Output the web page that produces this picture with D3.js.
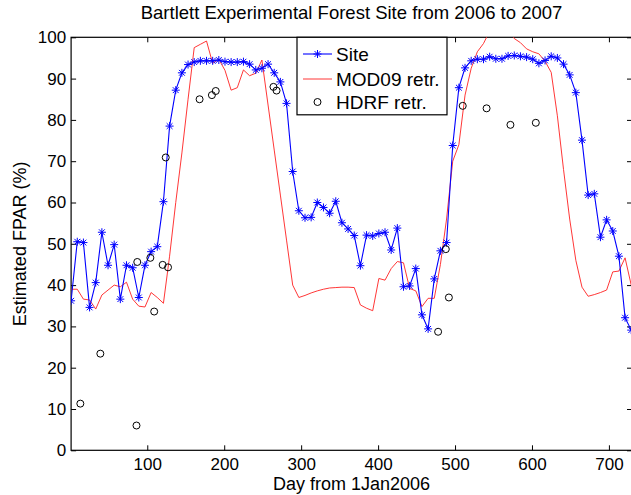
<!DOCTYPE html>
<html><head><meta charset="utf-8">
<script src="https://cdn.jsdelivr.net/npm/d3@7/dist/d3.min.js"></script>
<style>
body{margin:0;background:#fff}
svg{display:block;font-family:"Liberation Sans",Arial,Helvetica,sans-serif}
</style>
</head><body>
<svg id="chart" width="631" height="495"></svg>
<script>
const days = [1,9,17,25,33,41,49,57,65,73,81,89,97,105,113,121,129,137,145,153,161,169,177,185,193,201,209,217,225,233,241,249,257,265,273,281,289,297,305,313,321,329,337,345,353,361,
369,377,385,393,401,409,417,425,433,441,449,457,465,473,481,489,497,505,513,521,529,537,545,553,561,569,577,585,593,601,609,617,625,633,641,649,657,665,673,681,689,697,705,713,721,729];

const siteValues = [36.2,50.5,50.3,34.6,40.6,52.8,44.8,49.8,36.6,44.8,44.2,37.0,44.8,48.1,49.3,60.2,78.5,87.2,91.4,93.4,94.0,94.3,94.3,94.3,94.5,94.1,94.0,94.0,94.1,93.5,92.1,92.5,93.5,91.4,89.2,84.0,67.5,58.0,56.3,56.4,60.0,58.8,57.4,60.3,55.1,53.6,
52.0,44.7,52.1,51.9,52.5,52.8,48.5,53.8,39.6,39.8,44.0,32.8,29.4,41.5,48.3,50.3,73.8,87.8,92.6,94.3,94.7,94.7,95.3,94.8,94.8,95.5,95.6,95.4,95.2,94.7,93.7,94.4,95.4,95.0,93.5,90.9,86.6,75.1,61.8,62.1,51.6,55.8,53.1,47.0,32.1,29.1];

const mod09Values = [39.0,39.0,36.6,36.4,34.2,37.6,38.8,40.0,39.6,40.7,36.6,34.9,34.7,38.2,37.0,35.6,47.0,60.0,72.0,85.0,97.5,98.3,99.1,93.7,94.7,92.0,87.2,87.8,92.1,90.7,91.3,94.5,83.6,72.7,61.8,50.9,40.0,37.0,37.5,38.1,38.6,39.0,39.3,39.4,39.5,39.5,
39.4,35.2,34.4,33.8,41.6,41.2,44.0,45.7,45.4,39.2,38.6,34.8,36.8,36.8,45.0,56.0,70.0,74.0,86.0,92.5,96.5,98.5,101.5,104.0,104.0,102.0,99.7,98.7,97.2,96.5,96.0,94.2,91.5,81.0,68.0,56.0,46.0,39.5,37.3,37.7,38.2,38.8,43.2,43.4,46.6,40.0];

const hdrfDays   = [13,39,86,87,104,109,120,124,127,168,184,189,264,268,478,488,492,510,541,572,605];
const hdrfValues = [11.3,23.4,6.0,45.6,46.6,33.6,44.9,70.9,44.3,85.0,86.0,87.0,88.0,87.1,28.7,48.7,37.0,83.4,82.8,78.8,79.3];

const xTicks = [100,200,300,400,500,600,700];
const yTicks = [0,10,20,30,40,50,60,70,80,90,100];
const titleText = "Bartlett Experimental Forest Site from 2006 to 2007";
const xLabel = "Day from 1Jan2006";
const yLabel = "Estimated FPAR (%)";
const legendLabels = ["Site","MOD09 retr.","HDRF retr."];

const svg = d3.select("#chart");
const L = 71.1, R = 632, T = 37.3, B = 450.3;
const x = d3.scaleLinear().domain([1,730]).range([L,R]);
const y = d3.scaleLinear().domain([0,100]).range([B,T]);
const FS = 17;

svg.append("rect").attr("width",631).attr("height",495).attr("fill","#fff");

svg.append("defs").append("clipPath").attr("id","clip")
  .append("rect").attr("x",L).attr("y",T).attr("width",R-L).attr("height",B-T);

function styleAxis(g){
  g.select(".domain").remove();
  g.selectAll(".tick line").attr("stroke","#000").attr("stroke-width",1);
  g.selectAll("text").attr("fill","#000").style("font-size",FS+"px").style("font-family",'"Liberation Sans",Arial,sans-serif');
}
svg.append("g").attr("transform",`translate(0,${B})`)
  .call(d3.axisBottom(x).tickValues(xTicks).tickSize(-5).tickPadding(8)).call(styleAxis);
svg.append("g").attr("transform",`translate(0,${T})`)
  .call(d3.axisTop(x).tickValues(xTicks).tickSize(-5).tickFormat("")).call(styleAxis);
svg.append("g").attr("transform",`translate(${L},0)`)
  .call(d3.axisLeft(y).tickValues(yTicks).tickSize(-5).tickPadding(5)).call(styleAxis);
svg.append("g").attr("transform",`translate(${R},0)`)
  .call(d3.axisRight(y).tickValues(yTicks).tickSize(-5).tickFormat("")).call(styleAxis);

svg.append("rect").attr("x",L).attr("y",T).attr("width",R-L).attr("height",B-T)
  .attr("fill","none").attr("stroke","#000").attr("stroke-width",1.2);

const plot = svg.append("g").attr("clip-path","url(#clip)");

const line = d3.line().x(d=>x(d[0])).y(d=>y(d[1]));
const siteData = days.map((d,i)=>[d,siteValues[i]]);
const modData = days.map((d,i)=>[d,mod09Values[i]]);
const hdrfData = hdrfDays.map((d,i)=>[d,hdrfValues[i]]);

const star = "M-4,0H4M0,-4V4M-2.9,-2.9L2.9,2.9M-2.9,2.9L2.9,-2.9";

plot.append("path").datum(modData).attr("d",line)
  .attr("fill","none").attr("stroke","#ff2020").attr("stroke-width",0.9);
plot.append("path").datum(siteData).attr("d",line)
  .attr("fill","none").attr("stroke","#0000ff").attr("stroke-width",1.1);
plot.selectAll(".star").data(siteData).enter().append("path").attr("class","star")
  .attr("transform",d=>`translate(${x(d[0])},${y(d[1])})`).attr("d",star)
  .attr("stroke","#0000ff").attr("stroke-width",1).attr("fill","none");
plot.selectAll(".hdrf").data(hdrfData).enter().append("circle").attr("class","hdrf")
  .attr("cx",d=>x(d[0])).attr("cy",d=>y(d[1])).attr("r",3.5)
  .attr("fill","none").attr("stroke","#000").attr("stroke-width",1);

// legend
const lg = svg.append("g");
lg.append("rect").attr("x",297).attr("y",T).attr("width",150).attr("height",77.5)
  .attr("fill","#fff").attr("stroke","#000").attr("stroke-width",1.2);
const ly = [54,79,102];
lg.append("line").attr("x1",303).attr("x2",332).attr("y1",ly[0]).attr("y2",ly[0]).attr("stroke","#0000ff").attr("stroke-width",1.1);
lg.append("path").attr("transform",`translate(317.5,${ly[0]})`).attr("d",star).attr("stroke","#0000ff").attr("fill","none");
lg.append("line").attr("x1",303).attr("x2",332).attr("y1",ly[1]).attr("y2",ly[1]).attr("stroke","#ff2020").attr("stroke-width",0.9);
lg.append("circle").attr("cx",317.5).attr("cy",ly[2]).attr("r",3.5).attr("fill","none").attr("stroke","#000");
legendLabels.forEach((t,i)=>{
  lg.append("text").attr("x",336).attr("y",ly[i]).attr("dy","0.35em")
    .style("font-size","19px").attr("fill","#000").text(t);
});

svg.append("text").attr("x",(L+R)/2).attr("y",19).attr("text-anchor","middle")
  .style("font-size","18.5px").attr("fill","#000").text(titleText);
svg.append("text").attr("x",(L+R)/2).attr("y",490).attr("text-anchor","middle")
  .style("font-size","18px").attr("fill","#000").text(xLabel);
svg.append("text").attr("transform",`translate(26,${(T+B)/2}) rotate(-90)`).attr("text-anchor","middle")
  .style("font-size","18px").attr("fill","#000").text(yLabel);
</script>
</body></html>
